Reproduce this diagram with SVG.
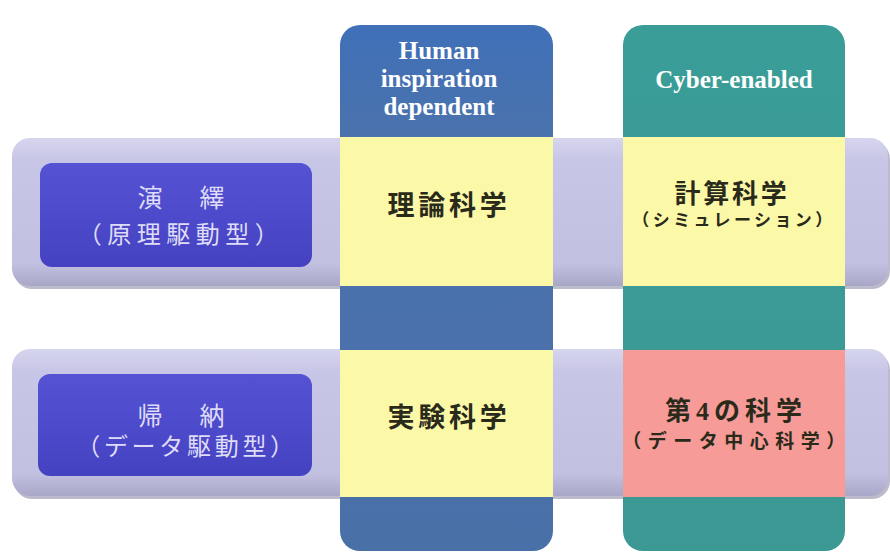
<svg xmlns="http://www.w3.org/2000/svg" width="890" height="552" viewBox="0 0 890 552">
<defs>
<linearGradient id="band" x1="0" y1="0" x2="0" y2="1">
<stop offset="0" stop-color="#d6d5ee"/>
<stop offset="0.15" stop-color="#c8c6e6"/>
<stop offset="0.85" stop-color="#c2c0e0"/>
<stop offset="1" stop-color="#a9a7c8"/>
</linearGradient>
<linearGradient id="purple" x1="0" y1="0" x2="0" y2="1">
<stop offset="0" stop-color="#5552d4"/>
<stop offset="1" stop-color="#4542c2"/>
</linearGradient>
<linearGradient id="blue" x1="0" y1="0" x2="0" y2="1">
<stop offset="0" stop-color="#3f70b8"/>
<stop offset="0.2" stop-color="#4a72ad"/>
<stop offset="1" stop-color="#4a70a8"/>
</linearGradient>
<linearGradient id="teal" x1="0" y1="0" x2="0" y2="1">
<stop offset="0" stop-color="#3a9d98"/>
<stop offset="1" stop-color="#3c9893"/>
</linearGradient>
</defs>
<style>
.band{fill:url(#band)}
.shadow{fill:#8f8ea8;opacity:0.6}
.lbl{fill:url(#purple)}
.lt{font-family:"Liberation Serif","Noto Sans CJK JP",serif;fill:#dedcf6;text-anchor:middle}
.hd{font-family:"Liberation Serif",serif;font-weight:bold;font-size:25px;fill:#ffffff;text-anchor:middle}
.yl{fill:#fbf8a8}
.pk{fill:#f69b98}
.ct{font-family:"Liberation Serif","Noto Sans CJK JP",serif;font-weight:bold;fill:#2a2a1a;text-anchor:middle}
</style>
<rect width="890" height="552" fill="#ffffff"/>
<g id="row-deduction-band">
<rect class="shadow" x="14" y="141" width="876" height="148" rx="18"/>
<rect class="band" x="12" y="138" width="876" height="148" rx="18"/>
</g>
<g id="row-induction-band">
<rect class="shadow" x="14" y="352" width="876" height="147" rx="18"/>
<rect class="band" x="12" y="349" width="876" height="147" rx="18"/>
</g>
<g id="col-human">
<rect x="340" y="25" width="213" height="526" rx="20" fill="url(#blue)"/>
<text class="hd" x="439" y="59">Human</text>
<text class="hd" x="439" y="87">inspiration</text>
<text class="hd" x="439" y="115">dependent</text>
</g>
<g id="col-cyber">
<rect x="623" y="25" width="222" height="526" rx="20" fill="url(#teal)"/>
<text class="hd" x="734" y="88">Cyber-enabled</text>
</g>
<g id="label-deduction">
<rect class="lbl" x="40" y="163" width="272" height="104" rx="12"/>
<text class="lt" x="184" y="207" font-size="25" letter-spacing="6">演　繹</text>
<text class="lt" x="181" y="243" font-size="24" letter-spacing="5.5">（原理駆動型）</text>
</g>
<g id="label-induction">
<rect class="lbl" x="38" y="374" width="274" height="102" rx="12"/>
<text class="lt" x="184" y="425" font-size="25" letter-spacing="6">帰　納</text>
<text class="lt" x="187" y="455" font-size="24" letter-spacing="3.7">（データ駆動型）</text>
</g>
<g id="cell-theory">
<rect class="yl" x="340" y="137" width="213" height="149"/>
<text class="ct" x="449" y="215" font-size="27" letter-spacing="3.7">理論科学</text>
</g>
<g id="cell-computational">
<rect class="yl" x="623" y="137" width="222" height="149"/>
<text class="ct" x="732" y="203" font-size="26" letter-spacing="2.7">計算科学</text>
<text class="ct" x="734" y="226" font-size="17" letter-spacing="3.4">（シミュレーション）</text>
</g>
<g id="cell-experimental">
<rect class="yl" x="340" y="350" width="213" height="147"/>
<text class="ct" x="449" y="427" font-size="27" letter-spacing="3.7">実験科学</text>
</g>
<g id="cell-fourth">
<rect class="pk" x="623" y="350" width="222" height="147"/>
<text class="ct" x="736" y="420" font-size="26" letter-spacing="5">第4の科学</text>
<text class="ct" x="737" y="448" font-size="19" letter-spacing="6.5">（データ中心科学）</text>
</g>
<g id="connectors"/>
</svg>
